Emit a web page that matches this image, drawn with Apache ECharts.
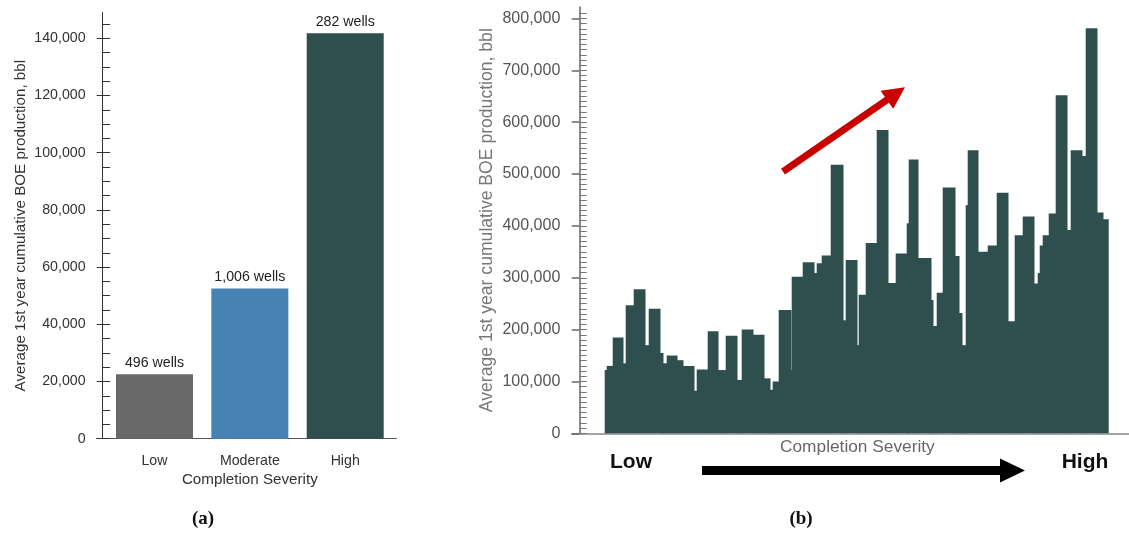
<!DOCTYPE html>
<html>
<head>
<meta charset="utf-8">
<title>Completion severity vs. first-year production</title>
<script src="https://cdn.jsdelivr.net/npm/echarts@6/dist/echarts.min.js"></script>
<style>
  html, body { margin: 0; padding: 0; background: #ffffff; }
  #chart { width: 1129px; height: 535px; }
</style>
</head>
<body>
<div id="chart"></div>
<script>
// (a) average first-year BOE by completion-severity class
const severityLevels = ['Low', 'Moderate', 'High'];
const avgFirstYearBoe = [22500, 52500, 141800];
const wellCounts = [496, 1006, 282];
const barColors = ['#696969', '#4682b4', '#2f4f4f'];
const ticksA = [0, 20000, 40000, 60000, 80000, 100000, 120000, 140000];

// (b) average first-year BOE across finer severity bins (bin edges on a severity index)
const severityEdges = [33, 35, 41, 51, 54, 62, 73, 77, 88, 91, 95, 105, 111, 122, 125, 136, 146, 154, 165, 170,
  181, 192, 198, 201, 207, 219, 220, 231, 242, 245, 250, 259, 271, 274, 285, 287, 294, 305, 316, 324,
  335, 337, 346, 359, 361, 365, 371, 383, 387, 390, 394, 396, 406, 416, 425, 436, 443, 451, 462, 466,
  468, 471, 477, 484, 495, 499, 510, 514, 525, 531, 537];
const binAvgBoe = [122000, 130000, 185000, 135000, 247000, 278000, 170000, 240000, 155000, 135000,
  150000, 141000, 130000, 82000, 123000, 197000, 122000, 188000, 103000, 200000,
  190000, 106000, 84000, 100000, 238000, 122000, 302000, 330000, 309000, 328000,
  343000, 518000, 218000, 334000, 170000, 267000, 367000, 585000, 290000, 347000,
  405000, 528000, 338000, 257000, 207000, 271000, 474000, 342000, 232000, 170000,
  440000, 546000, 350000, 362000, 464000, 216000, 382000, 418000, 289000, 309000,
  362000, 382000, 424000, 652000, 392000, 546000, 535000, 781000, 426000, 413000];
const ticksB = [0, 100000, 200000, 300000, 400000, 500000, 600000, 700000, 800000];

const FONT = "'Liberation Sans', Arial, Helvetica, sans-serif";
const fmt = v => Number(v).toLocaleString('en-US');

const maxA = 149000;
const maxB = 822000;
const minorA = [];
for (let v = 0; v <= 145000; v += 5000) minorA.push(v);
const minorB = [];
for (let v = 0; v <= 810000; v += 10000) minorB.push(v);

// one record per bin: [left edge, right edge, value]
const binData = binAvgBoe.map((v, i) => [severityEdges[i], severityEdges[i + 1], v]);
const lastBin = binData.length - 1;

// each bin is a filled rectangle; inner bins overlap their right neighbour slightly so no seams show
function renderBin(params, api) {
  const p0 = api.coord([api.value(0), api.value(2)]);
  const p1 = api.coord([api.value(1), 0]);
  const overlap = params.dataIndex < lastBin ? 0.8 : 0;
  return {
    type: 'rect',
    shape: { x: p0[0], y: p0[1], width: p1[0] - p0[0] + overlap, height: p1[1] - p0[1] },
    style: { fill: '#2f4f4f' }
  };
}

const chart = echarts.init(document.getElementById('chart'), null, { renderer: 'canvas' });

const option = {
  animation: false,
  backgroundColor: '#ffffff',
  textStyle: { fontFamily: FONT },
  grid: [
    { left: 106.8, width: 286.1, top: 12.6, height: 426.1, outerBoundsMode: 'none', containLabel: false },
    { left: 96.5, width: 299.8, top: 12.6, height: 426.1, outerBoundsMode: 'none', containLabel: false },
    { left: 571.7, width: 557.3, top: 7.1, height: 426.2, outerBoundsMode: 'none', containLabel: false }
  ],
  xAxis: [
    {
      type: 'category', gridIndex: 0, position: 'bottom', data: severityLevels,
      axisLine: { show: false }, axisTick: { show: false },
      axisLabel: { margin: 15, fontSize: 14.2, color: '#333', fontFamily: FONT },
      splitLine: { show: false },
      name: 'Completion Severity', nameLocation: 'middle', nameGap: 34,
      nameTextStyle: { fontSize: 15.2, color: '#333', fontFamily: FONT }
    },
    {
      type: 'value', gridIndex: 1, position: 'bottom', min: 0, max: 1,
      axisLine: { show: true, onZero: false, lineStyle: { color: '#555', width: 1 } },
      axisTick: { show: false }, axisLabel: { show: false }, splitLine: { show: false }
    },
    {
      type: 'value', gridIndex: 2, position: 'bottom', min: 0, max: 557.3,
      axisLine: { show: true, onZero: false, lineStyle: { color: '#888', width: 1.5 } },
      axisTick: { show: false }, axisLabel: { show: false }, splitLine: { show: false },
      name: 'Completion Severity', nameLocation: 'middle', nameGap: 5,
      nameTextStyle: { fontSize: 17.3, color: '#666', fontFamily: FONT, padding: [0, 0, 0, 14] }
    }
  ],
  yAxis: [
    { type: 'value', gridIndex: 0, position: 'left', min: 0, max: maxA, show: false },
    {
      type: 'value', gridIndex: 1, position: 'left', min: 0, max: maxA, offset: -6.1,
      axisLine: { show: true, onZero: false, lineStyle: { color: '#333', width: 1 } },
      axisTick: { show: true, length: 6, customValues: ticksA, lineStyle: { color: '#333' } },
      axisLabel: { customValues: ticksA, formatter: fmt, margin: 17, fontSize: 14.2, color: '#333', fontFamily: FONT },
      splitLine: { show: false },
      name: 'Average 1st year cumulative BOE production, bbl', nameLocation: 'middle', nameGap: 74,
      nameTextStyle: { fontSize: 15.2, color: '#333', fontFamily: FONT }
    },
    {
      type: 'value', gridIndex: 1, position: 'left', min: 0, max: maxA, offset: -6.1,
      axisLine: { show: false, onZero: false },
      axisTick: { show: true, inside: true, length: 7.5, customValues: minorA, lineStyle: { color: '#333' } },
      axisLabel: { show: false }, splitLine: { show: false }
    },
    {
      type: 'value', gridIndex: 2, position: 'left', min: 0, max: maxB, offset: -7.6,
      axisLine: { show: true, onZero: false, lineStyle: { color: '#666', width: 1.5 } },
      axisTick: { show: true, length: 7.6, customValues: ticksB, lineStyle: { color: '#666', width: 1.5 } },
      axisLabel: { customValues: ticksB, formatter: fmt, margin: 19, fontSize: 16, color: '#555', fontFamily: FONT },
      splitLine: { show: false },
      name: 'Average 1st year cumulative BOE production, bbl', nameLocation: 'middle', nameGap: 83,
      nameTextStyle: { fontSize: 17.6, color: '#777', fontFamily: FONT }
    },
    {
      type: 'value', gridIndex: 2, position: 'left', min: 0, max: maxB, offset: -7.6,
      axisLine: { show: false, onZero: false },
      axisTick: { show: true, inside: true, length: 7.5, customValues: minorB, lineStyle: { color: '#777', width: 1 } },
      axisLabel: { show: false }, splitLine: { show: false }
    }
  ],
  series: [
    {
      type: 'bar', xAxisIndex: 0, yAxisIndex: 0, barWidth: 77,
      data: avgFirstYearBoe.map((v, i) => ({ value: v, itemStyle: { color: barColors[i] } })),
      label: {
        show: true, position: 'top', distance: 4,
        fontSize: 14.2, color: '#222', fontFamily: FONT,
        formatter: p => fmt(wellCounts[p.dataIndex]) + ' wells'
      },
      silent: true
    },
    {
      type: 'custom', xAxisIndex: 2, yAxisIndex: 3,
      renderItem: renderBin,
      encode: { x: [0, 1], y: 2 },
      data: binData, silent: true
    }
  ],
  graphic: [
    // trend arrow
    {
      type: 'polygon', silent: true,
      shape: { points: [[781.0, 168.8], [884.9, 96.9], [880.6, 90.8], [905, 87.3], [893.2, 108.8], [888.9, 102.7], [785.0, 174.6]] },
      style: { fill: '#c80000' }
    },
    // severity direction arrow
    {
      type: 'polygon', silent: true,
      shape: { points: [[702, 466], [1000, 466], [1000, 458.5], [1025, 470.5], [1000, 482.5], [1000, 475], [702, 475]] },
      style: { fill: '#000000' }
    },
    {
      type: 'text', silent: true, x: 631, y: 462,
      style: { text: 'Low', font: "bold 21px 'Liberation Sans', Arial, sans-serif", fill: '#111', align: 'center', verticalAlign: 'middle', textAlign: 'center', textVerticalAlign: 'middle' }
    },
    {
      type: 'text', silent: true, x: 1085, y: 462,
      style: { text: 'High', font: "bold 21px 'Liberation Sans', Arial, sans-serif", fill: '#111', align: 'center', verticalAlign: 'middle', textAlign: 'center', textVerticalAlign: 'middle' }
    },
    {
      type: 'text', silent: true, x: 203, y: 519,
      style: { text: '(a)', font: "bold 19px 'Liberation Serif', 'DejaVu Serif', serif", fill: '#111', align: 'center', verticalAlign: 'middle', textAlign: 'center', textVerticalAlign: 'middle' }
    },
    {
      type: 'text', silent: true, x: 801, y: 519,
      style: { text: '(b)', font: "bold 19px 'Liberation Serif', 'DejaVu Serif', serif", fill: '#111', align: 'center', verticalAlign: 'middle', textAlign: 'center', textVerticalAlign: 'middle' }
    }
  ]
};

chart.setOption(option);
</script>
</body>
</html>
